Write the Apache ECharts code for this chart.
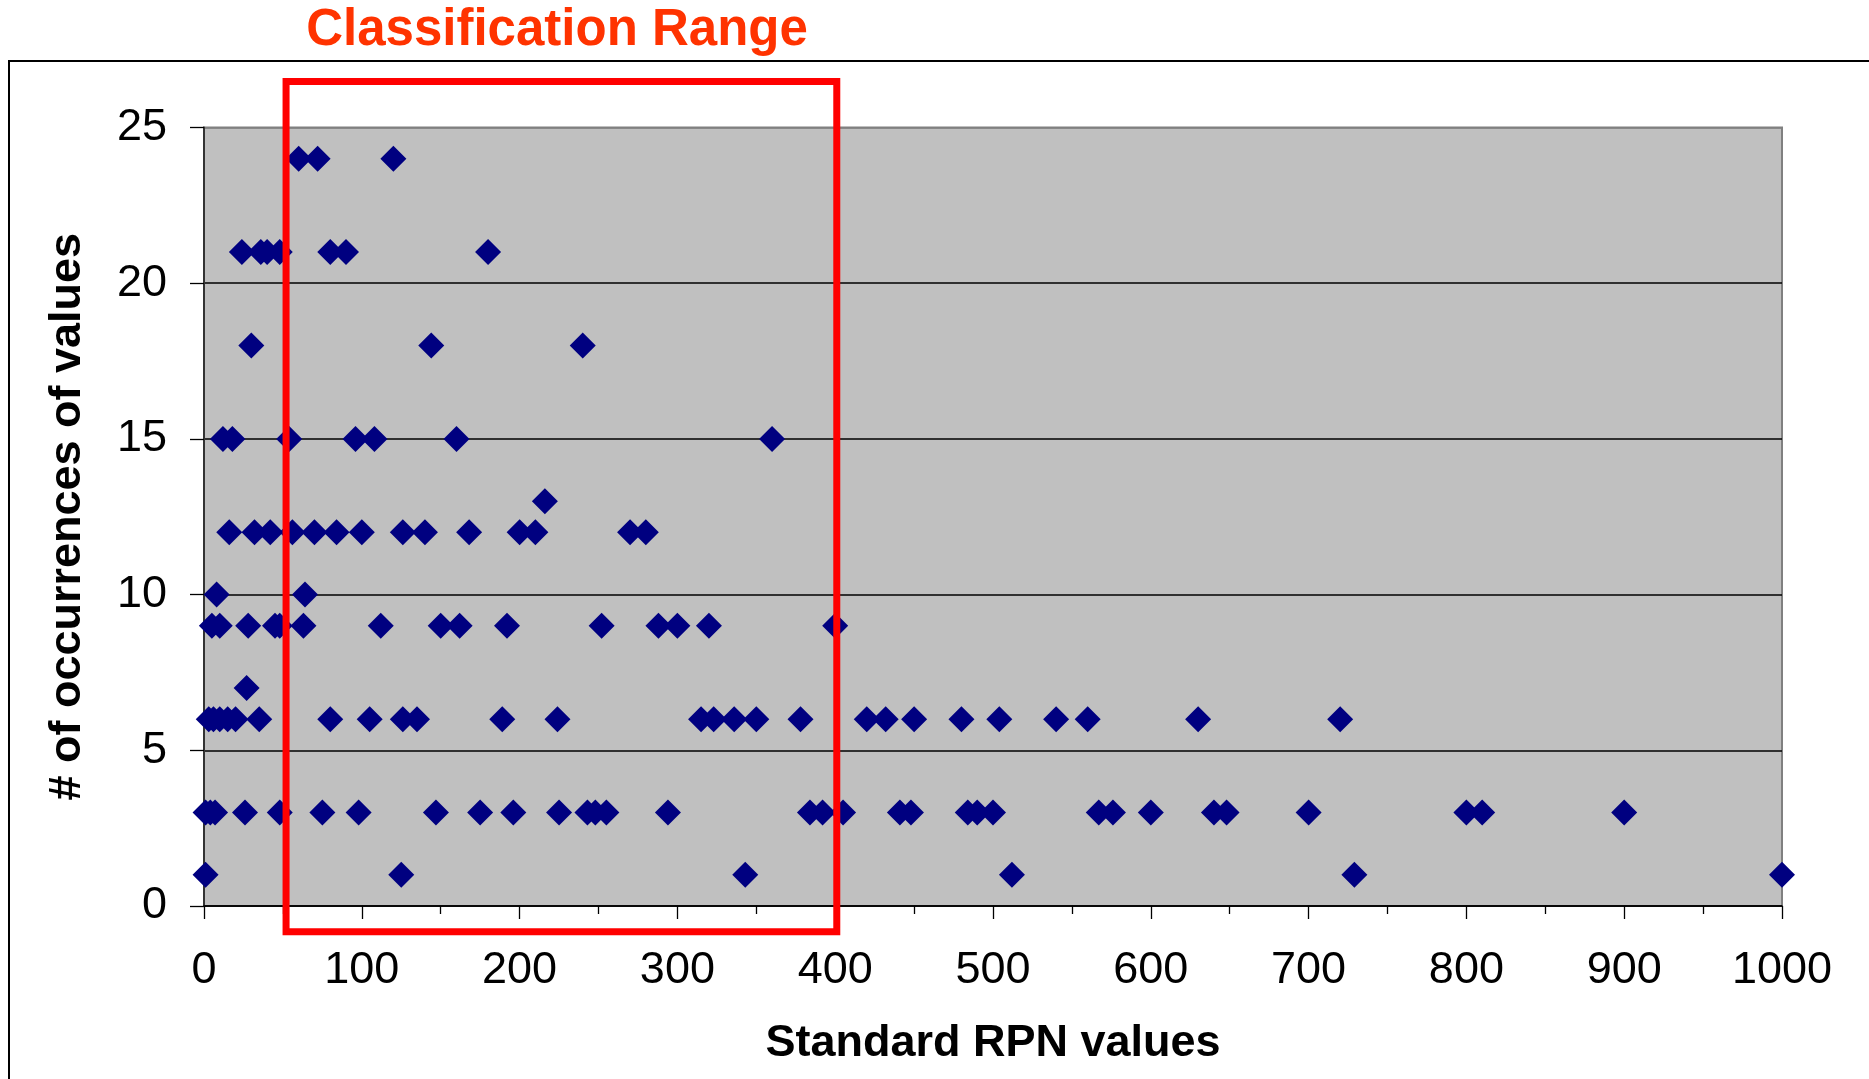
<!DOCTYPE html>
<html><head><meta charset="utf-8">
<script src="https://cdn.jsdelivr.net/npm/echarts@6/dist/echarts.min.js"></script>
<style>html,body{margin:0;padding:0;background:#fff;}#c{width:1869px;height:1079px;}</style>
</head><body><div id="c"></div>
<script>
// Standard RPN values grouped by their number of occurrences
const rpnOcc24 = [60, 72, 120];
const rpnOcc21 = [24, 36, 40, 48, 80, 90, 180];
const rpnOcc18 = [30, 144, 240];
const rpnOcc15 = [12, 18, 54, 96, 108, 160, 360];
const rpnOcc13 = [216];
const rpnOcc12 = [16, 32, 42, 56, 70, 84, 100, 126, 140, 168, 200, 210, 270, 280];
const rpnOcc10 = [8, 64];
const rpnOcc9  = [5, 10, 28, 45, 48, 63, 112, 150, 162, 192, 252, 288, 300, 320, 400];
const rpnOcc7  = [27];
const rpnOcc6  = [3, 6, 10, 15, 20, 35, 80, 105, 126, 135, 189, 224, 315, 323, 336, 350, 378, 420, 432, 450, 480, 504, 540, 560, 630, 720];
const rpnOcc3  = [1, 4, 7, 26, 48, 75, 98, 147, 175, 196, 225, 243, 248, 255, 294, 384, 392, 405, 441, 448, 484, 490, 500, 567, 576, 600, 640, 648, 700, 800, 810, 900];
const rpnOcc1  = [1, 125, 343, 512, 729, 1000];

const occurrenceLevels = [24, 21, 18, 15, 13, 12, 10, 9, 7, 6, 3, 1];
const rpnGroups = [rpnOcc24, rpnOcc21, rpnOcc18, rpnOcc15, rpnOcc13, rpnOcc12, rpnOcc10, rpnOcc9, rpnOcc7, rpnOcc6, rpnOcc3, rpnOcc1];

// Classification range annotation (RPN from..to, occurrences from..to)
const classRangeRpn = [52, 401];
const classRangeOcc = [-0.83, 26.48];
const rangeTitle = 'Classification Range';
const xAxisTitle = 'Standard RPN values';
const yAxisTitle = '# of occurrences of values';

const points = [];
rpnGroups.forEach((g, i) => g.forEach(x => points.push([x, occurrenceLevels[i]])));

const FONT = '"Liberation Sans", Arial, sans-serif';
const chart = echarts.init(document.getElementById('c'), null, {renderer: 'canvas'});
chart.setOption({
  animation: false,
  backgroundColor: '#ffffff',
  grid: {
    left: 204, right: 87, top: 127.5, bottom: 173,
    show: true, backgroundColor: '#C0C0C0', borderColor: '#808080', borderWidth: 2,
    containLabel: false, outerBoundsMode: 'none'
  },
  xAxis: {
    type: 'value', min: 0, max: 1000, interval: 100,
    axisLine: {show: true, onZero: false, lineStyle: {color: '#000', width: 1.5}},
    axisTick: {show: true, length: 13, lineStyle: {color: '#000', width: 1.3}},
    minorTick: {show: true, splitNumber: 2, length: 8, lineStyle: {color: '#000', width: 1.3}},
    axisLabel: {fontSize: 45, color: '#000', margin: 42, fontFamily: FONT, formatter: v => String(v)},
    splitLine: {show: false},
    name: xAxisTitle, nameLocation: 'middle', nameGap: 115,
    nameTextStyle: {fontSize: 45, fontWeight: 'bold', color: '#000', fontFamily: FONT}
  },
  yAxis: {
    type: 'value', min: 0, max: 25, interval: 5,
    axisLine: {show: true, onZero: false, lineStyle: {color: '#333', width: 2}},
    axisTick: {show: true, length: 14, lineStyle: {color: '#000', width: 1.3}},
    axisLabel: {fontSize: 45, color: '#000', margin: 37, fontFamily: FONT},
    splitLine: {show: true, lineStyle: {color: ['#000', '#000', '#000', '#000', '#000', '#808080'], width: 1.5}},
    name: yAxisTitle, nameLocation: 'middle', nameGap: 114, nameRotate: 90,
    nameTextStyle: {fontSize: 45, fontWeight: 'bold', color: '#000', fontFamily: FONT}
  },
  series: [{
    type: 'scatter', data: points, symbol: 'diamond', symbolSize: 26, clip: false,
    itemStyle: {color: '#000080', opacity: 1}, emphasis: {disabled: true}, z: 5
  }]
});

const p1 = chart.convertToPixel({gridIndex: 0}, [classRangeRpn[0], classRangeOcc[1]]);
const p2 = chart.convertToPixel({gridIndex: 0}, [classRangeRpn[1], classRangeOcc[0]]);
chart.setOption({
  graphic: [
    {type: 'rect', shape: {x: 9, y: 61, width: 1900, height: 1100}, style: {stroke: '#000', lineWidth: 2, fill: null}, z: 1, silent: true},
    {type: 'rect', shape: {x: p1[0], y: p1[1], width: p2[0] - p1[0], height: p2[1] - p1[1]}, style: {stroke: '#FF0000', lineWidth: 7, fill: null}, z: 100, silent: true},
    {type: 'text', x: 557, y: 31, z: 100, style: {text: rangeTitle, fill: '#FF3300', fontSize: 51, fontWeight: 'bold', fontFamily: FONT, align: 'center', verticalAlign: 'middle'}}
  ]
});
</script></body></html>
